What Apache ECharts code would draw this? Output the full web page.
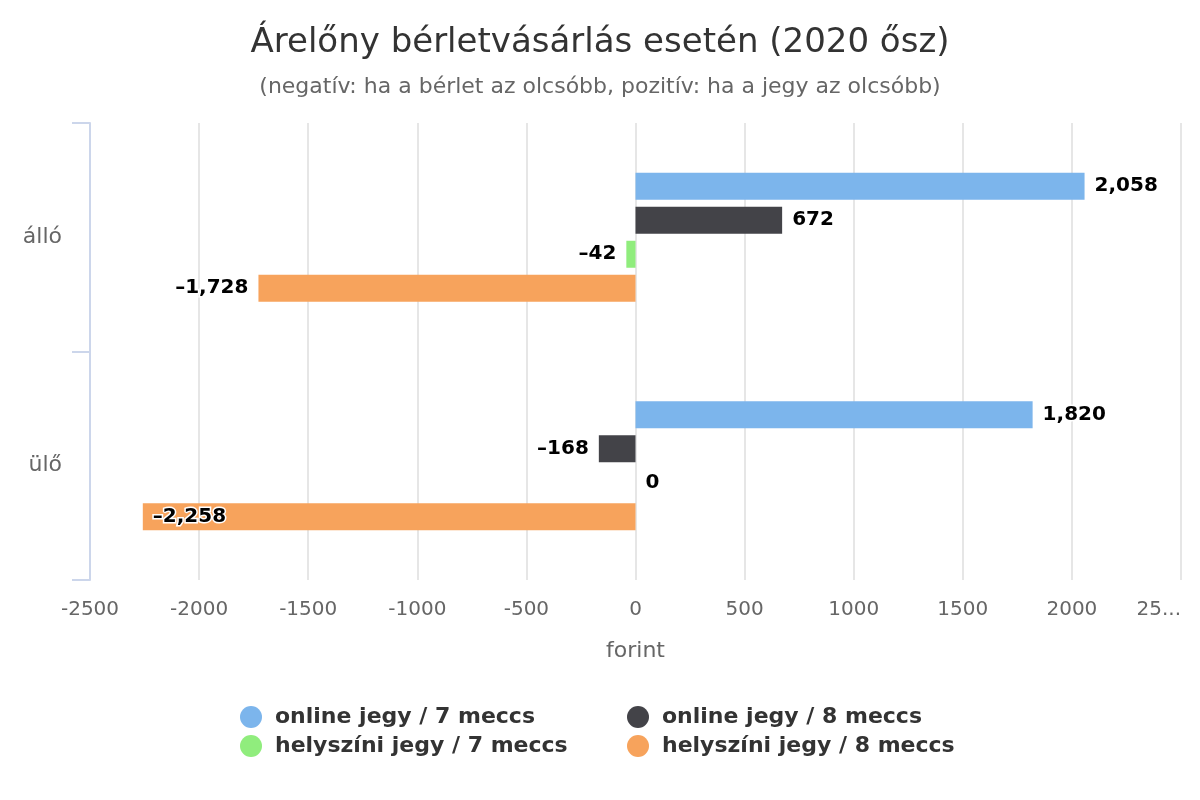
<!DOCTYPE html>
<html>
<head>
<meta charset="utf-8">
<script src="https://cdn.jsdelivr.net/npm/echarts@6/dist/echarts.min.js"></script>
<style>html,body{margin:0;padding:0;background:#fff}#c{width:1200px;height:800px}</style>
</head>
<body>
<div id="c"></div>
<script>
const categories = ['álló', 'ülő'];
const seriesNames = ['online jegy / 7 meccs', 'online jegy / 8 meccs', 'helyszíni jegy / 7 meccs', 'helyszíni jegy / 8 meccs'];
const onlineJegy7 = [2058, 1820];
const onlineJegy8 = [672, -168];
const helyszini7 = [-42, 0];
const helyszini8 = [-1728, -2258];
const xTicks = [-2500, -2000, -1500, -1000, -500, 0, 500, 1000, 1500, 2000, 2500];

const colors = ['#7cb5ec', '#434348', '#90ed7d', '#f7a35c'];
const FONT = 'DejaVu Sans';
const seriesValues = [onlineJegy7, onlineJegy8, helyszini7, helyszini8];

function fmt(v) {
  const s = Math.abs(v).toString().replace(/\B(?=(\d{3})+(?!\d))/g, ',');
  return (v < 0 ? '–' : '') + s;
}

function makeData(vals) {
  return vals.map(v => ({
    value: v,
    label: { position: v < -2000 ? 'insideLeft' : (v < 0 ? 'left' : 'right') }
  }));
}

const legendCommon = {
  orient: 'vertical', top: 701,
  icon: 'circle', itemWidth: 24, itemHeight: 22, itemGap: 7,
  textStyle: { fontFamily: FONT, fontSize: 22, fontWeight: 'bold', color: '#333', padding: [0, 0, 0, 7] }
};

const chart = echarts.init(document.getElementById('c'), null, { renderer: 'canvas' });
chart.setOption({
  animation: false,
  backgroundColor: '#fff',
  color: colors,
  title: {
    text: 'Árelőny bérletvásárlás esetén (2020 ősz)',
    subtext: '(negatív: ha a bérlet az olcsóbb, pozitív: ha a jegy az olcsóbb)',
    left: 'center',
    top: 21,
    itemGap: 16,
    textStyle: { fontFamily: FONT, fontSize: 34, fontWeight: 'normal', color: '#333' },
    subtextStyle: { fontFamily: FONT, fontSize: 22, color: '#666' }
  },
  legend: [
    Object.assign({ data: [seriesNames[0], seriesNames[2]], left: 235 }, legendCommon),
    Object.assign({ data: [seriesNames[1], seriesNames[3]], left: 622 }, legendCommon)
  ],
  grid: { left: 90, right: 19, top: 123, bottom: 220, containLabel: false, outerBoundsMode: 'none' },
  xAxis: {
    type: 'value',
    min: -2500, max: 2500, interval: 500,
    name: 'forint', nameLocation: 'middle', nameGap: 60,
    nameTextStyle: { fontFamily: FONT, fontSize: 22, color: '#666' },
    axisLine: { show: false },
    axisTick: { show: false },
    axisLabel: {
      fontFamily: FONT, fontSize: 20, color: '#666', margin: 20,
      alignMaxLabel: 'right',
      formatter: v => (v === xTicks[xTicks.length - 1] ? '25...' : String(v))
    },
    splitLine: { show: true, lineStyle: { color: '#e6e6e6', width: 2 } }
  },
  yAxis: {
    type: 'category',
    data: categories,
    inverse: true,
    axisLine: { show: true, onZero: false, lineStyle: { color: '#ccd6eb', width: 2 } },
    axisTick: { show: true, length: 18, lineStyle: { color: '#ccd6eb', width: 2 } },
    axisLabel: { fontFamily: FONT, fontSize: 22, color: '#666', margin: 28 },
    splitLine: { show: false }
  },
  series: seriesValues.map((vals, i) => ({
    name: seriesNames[i],
    type: 'bar',
    data: makeData(vals),
    barWidth: 27,
    barGap: '26%',
    itemStyle: { color: colors[i] },
    label: {
      show: true,
      distance: 10,
      formatter: p => fmt(p.value),
      fontFamily: FONT, fontSize: 20, fontWeight: 'bold', color: '#000',
      textBorderColor: '#fff', textBorderWidth: 3
    }
  }))
});
</script>
</body>
</html>
